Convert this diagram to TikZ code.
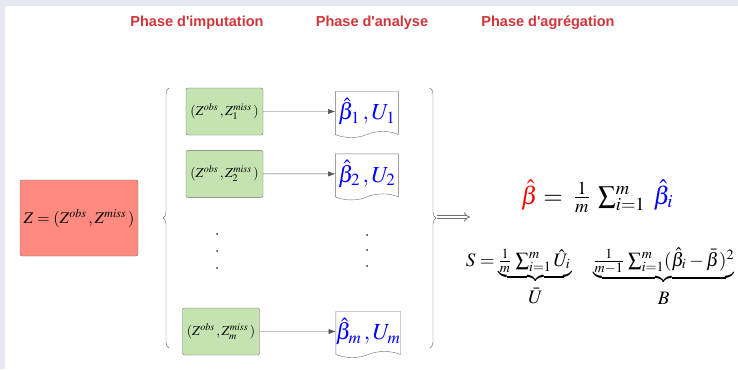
\documentclass[tikz,border=0pt]{standalone}
\usepackage{mathptmx}
\usepackage[no-math]{fontspec}
\newfontfamily\phasefont{Liberation Sans}
\usepackage{tikz}
\usetikzlibrary{arrows.meta,positioning,shapes.symbols,decorations.pathreplacing}

\definecolor{phasered}{RGB}{209,52,58}
\definecolor{datared}{RGB}{255,138,128}
\definecolor{imputgreen}{RGB}{197,227,176}
\definecolor{boxgray}{RGB}{110,110,110}
\definecolor{arrowgray}{RGB}{85,85,85}
\definecolor{framelav}{RGB}{232,232,243}

\begin{document}
\begin{tikzpicture}[
        x=1pt, y=-1pt,
        phase/.style={font=\phasefont\fontsize{14.5}{17}\selectfont\bfseries, text=phasered, inner sep=0pt, anchor=base},
        data/.style={rectangle, draw=boxgray, fill=datared, rounded corners=2pt, minimum width=118pt, minimum height=76pt, inner sep=1pt, font=\fontsize{16.2}{19}\selectfont},
        imput/.style={rectangle, draw=boxgray, fill=imputgreen, rounded corners=2pt, minimum width=77pt, minimum height=47pt, inner sep=1pt, font=\fontsize{13.6}{16}\selectfont},
        result/.style={tape, tape bend top=none, tape bend height=6pt, draw=boxgray, fill=white, minimum width=63pt, minimum height=46pt, inner sep=0pt, text=blue, font=\fontsize{23}{26}\selectfont},
        arrow/.style={-{Latex[length=7pt,width=5pt]}, draw=arrowgray},
        brace/.style={decorate, decoration={brace, amplitude=6pt}, draw=boxgray},
        dot/.style={fill=black!80}
    ]

    % Frame
    \fill[framelav] (0,0) rectangle (738,369);
    \fill[white] (4.5,6.5) rectangle (738,369);
    \useasboundingbox (0,0) rectangle (738,369);

    % Phase titles
    \node[phase] (phimp) at (197,27) {Phase d\textquotesingle imputation};
    \node[phase] (phana) at (372,27) {Phase d\textquotesingle analyse};
    \node[phase] (phagg) at (548,27) {Phase d\textquotesingle agrégation};

    % Incomplete data
    \node[data] (zdata) at (79,218) {$Z = (Z^{obs}\,, Z^{miss}\,)$};

    % Imputed data sets
    \node[imput] (imp1) at (224.5,111.5) {$(Z^{obs}\,, Z^{miss}_1\,)$};
    \node[imput, below=15pt of imp1] (imp2) {$(Z^{obs}\,, Z^{miss}_2\,)$};
    \node[imput] (impm) at (221,331.5) {$(Z^{obs}\,, Z^{miss}_m\,)$};

    % Analysis results
    \node[result, right=72pt of imp1] (res1) {$\hat\beta_1\,, U_1$};
    \node[result, right=72pt of imp2] (res2) {$\hat\beta_2\,, U_2$};
    \node[result, right=76pt of impm] (resm) {$\hat\beta_m\,, U_m$};

    \foreach \y in {234,251,268} \fill[dot] (217,\y) circle (1pt);
    \foreach \y in {235,250,266} \fill[dot] (367,\y) circle (1pt);

    % Arrows
    \draw[arrow] (imp1) -- (res1);
    \draw[arrow] (imp2) -- (res2);
    \draw[arrow] (impm) -- (resm);

    % Braces
    \draw[brace] (169,348) -- (169,88);
    \draw[brace] (430,88) -- (430,348);

    % Pooling
    \coordinate (aggtip) at (437,217);
    \coordinate (aggend) at (470,217);
    \draw[draw=boxgray, line width=0.8pt, double=white, double distance=2.4pt, -{Implies}] (aggtip) -- (aggend);

    \node[font=\fontsize{25}{29}\selectfont, anchor=base] (pooled) at (597,204) {$\textcolor{red}{\hat\beta} = \; \frac{1}{m} \; \sum_{i=1}^{m} \; \textcolor{blue}{\hat\beta_i}$};
    \node[font=\fontsize{19}{22}\selectfont, anchor=base] (variance) at (600,266) {$S = \underbrace{\textstyle\frac{1}{m}\,\sum_{i=1}^{m}\hat U_i\,}_{\textstyle\bar U\rule{0pt}{19pt}} \quad \underbrace{\textstyle\frac{1}{m-1}\,\sum_{i=1}^{m}(\hat\beta_i-\bar\beta)^2}_{\textstyle B\rule{0pt}{19pt}}$};

    \end{tikzpicture}
\end{document}
